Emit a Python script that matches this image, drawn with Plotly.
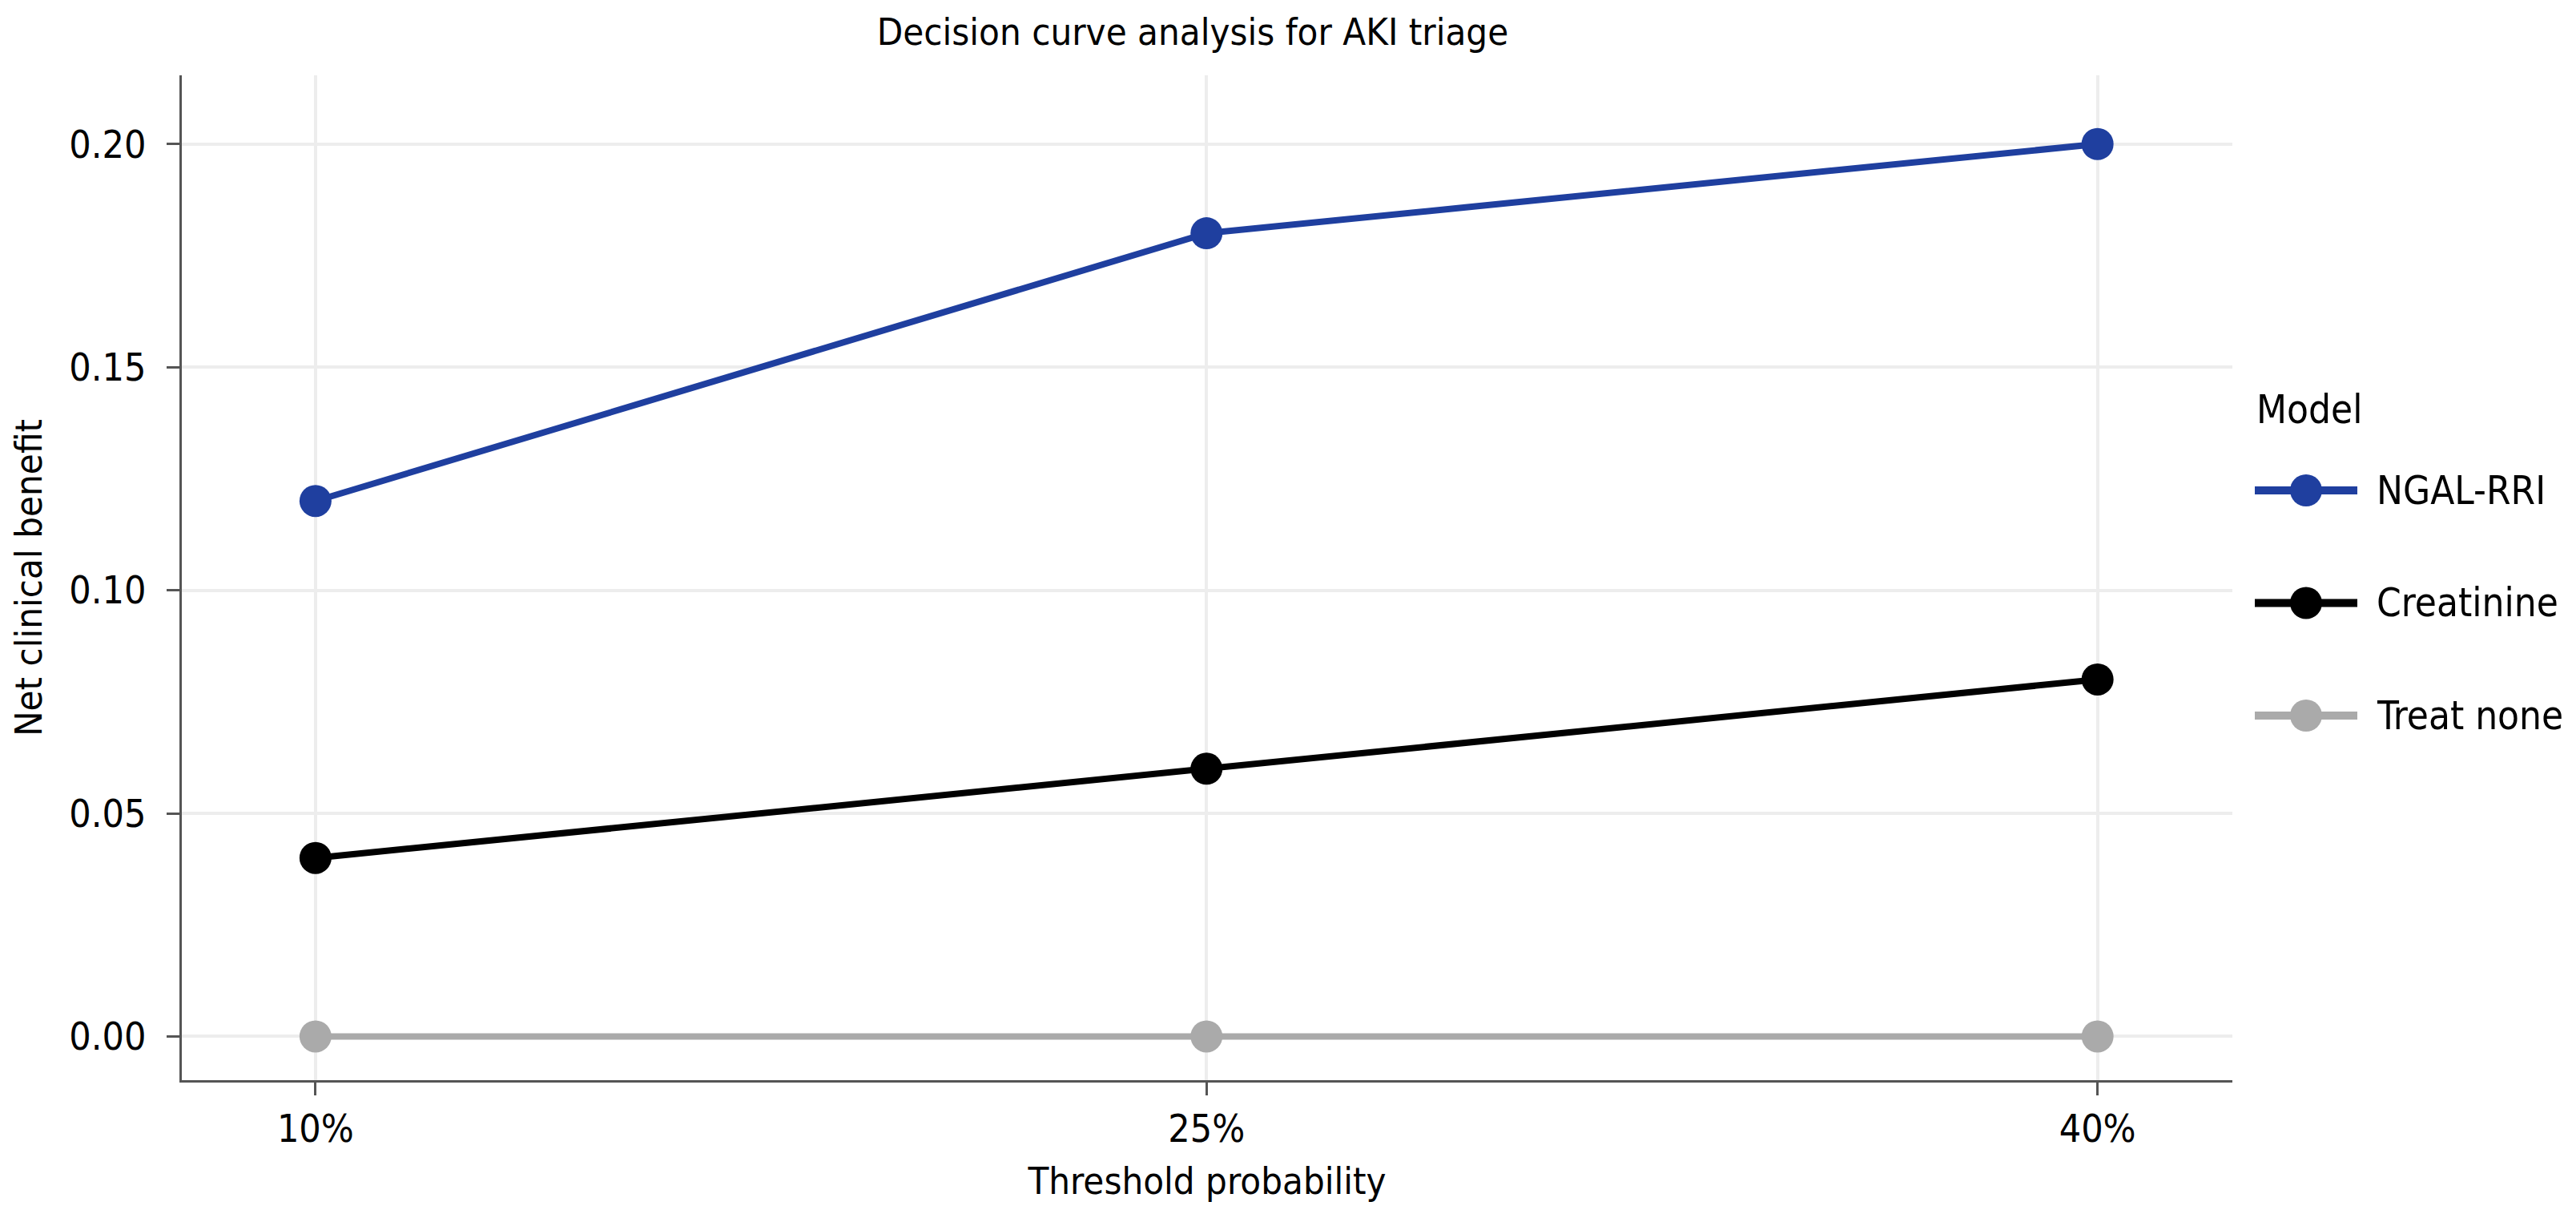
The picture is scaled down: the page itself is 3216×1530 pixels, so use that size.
import plotly.graph_objects as go

# threshold probabilities (%) and net benefit per model
thresholds = [10, 25, 40]
tick_labels = ["10%", "25%", "40%"]
y_ticks = [0, 0.05, 0.10, 0.15, 0.20]
models = ["NGAL-RRI", "Creatinine", "Treat none"]
ngal_rri = [0.12, 0.18, 0.20]
creatinine = [0.04, 0.06, 0.08]
treat_none = [0.0, 0.0, 0.0]
colors = ["#1f3f9f", "#000000", "#aaaaaa"]

FONT = "DejaVu Sans Condensed, DejaVu Sans, sans-serif"
# the page body has an 8px margin, so the figure is a bit smaller than the window
PAGE_OFF = 8
W, H = 3216 - PAGE_OFF, 1530 - PAGE_OFF
L, R, T, B = 227 - PAGE_OFF, 429, 94 - PAGE_OFF, 182

fig = go.Figure()
for name, ys, col in zip(models, [ngal_rri, creatinine, treat_none], colors):
    fig.add_trace(go.Scatter(
        x=thresholds, y=ys, name=name, mode="lines+markers",
        line=dict(color=col, width=8),
        marker=dict(color=col, size=40),
        showlegend=False,
    ))


# page pixel -> paper coordinate
def px_x(px):
    return (px - PAGE_OFF - L) / (W - L - R)


def px_y(py):
    return (H - B - (py - PAGE_OFF)) / (H - T - B)


# hand-made legend so the glyphs keep the big size of the original
annotations = [dict(
    text="Model", xref="paper", yref="paper", x=px_x(2815), y=px_y(511),
    xanchor="left", yanchor="middle", showarrow=False,
    font=dict(family=FONT, size=49, color="#000000"),
)]
shapes = []
for i, (name, col) in enumerate(zip(models, colors)):
    cy = px_y(612 + i * 140.5)
    shapes.append(dict(type="line", xref="paper", yref="paper",
                       x0=px_x(2815), x1=px_x(2943), y0=cy, y1=cy,
                       line=dict(color=col, width=10)))
    shapes.append(dict(type="circle", xref="paper", yref="paper",
                       xsizemode="pixel", ysizemode="pixel",
                       xanchor=px_x(2879), yanchor=cy,
                       x0=-20, x1=20, y0=-20, y1=20,
                       fillcolor=col, line=dict(width=0)))
    annotations.append(dict(
        text=name, xref="paper", yref="paper", x=px_x(2965), y=cy,
        xanchor="left", yanchor="middle", showarrow=False,
        font=dict(family=FONT, size=49, color="#000000"),
    ))

axis_common = dict(
    showline=True, linecolor="#555555", linewidth=3,
    ticks="outside", ticklen=16, tickwidth=3, tickcolor="#555555",
    showgrid=True, gridcolor="#ededed", gridwidth=4,
    zeroline=False, automargin=False,
    tickfont=dict(family=FONT, size=48, color="#000000"),
)

fig.update_layout(
    width=W, height=H,
    margin=dict(l=L, r=R, t=T, b=B),
    paper_bgcolor="white", plot_bgcolor="white",
    font=dict(family=FONT, size=47, color="#000000"),
    title=dict(text="Decision curve analysis for AKI triage",
               xref="paper", x=px_x(1489), xanchor="center",
               yref="container", y=1 - (40 - PAGE_OFF) / H, yanchor="middle",
               font=dict(family=FONT, size=47, color="#000000")),
    xaxis=dict(axis_common, range=[7.75, 42.27], tickvals=thresholds,
               ticktext=tick_labels,
               title=dict(text="Threshold probability", standoff=23,
                          font=dict(family=FONT, size=47))),
    yaxis=dict(axis_common, range=[-0.0098, 0.2154], tickvals=y_ticks,
               tickformat=".2f", ticklabelstandoff=16,
               title=dict(text="Net clinical benefit", standoff=21,
                          font=dict(family=FONT, size=47))),
    shapes=shapes,
    annotations=annotations,
)

fig.write_html("out.html")
